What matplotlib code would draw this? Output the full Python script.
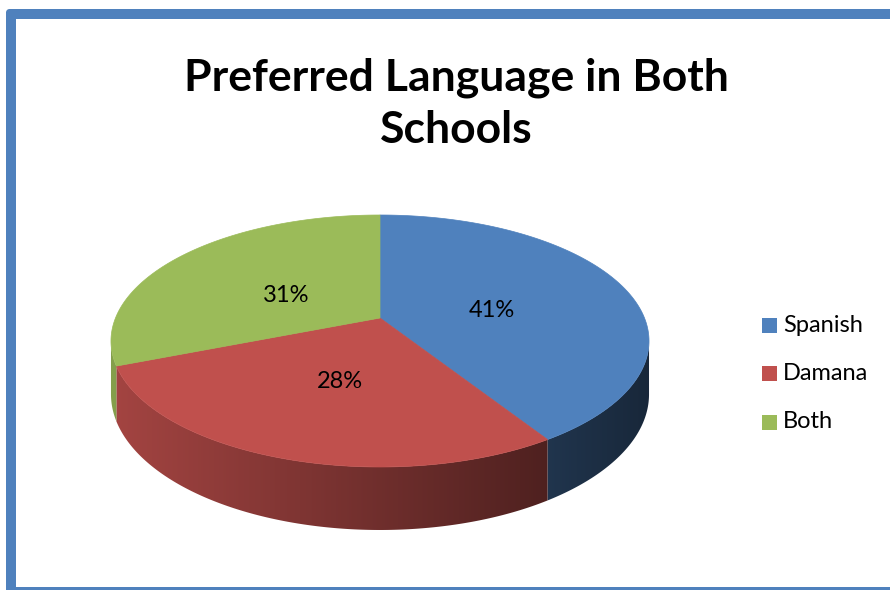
import numpy as np
import matplotlib
matplotlib.use("Agg")
import matplotlib.pyplot as plt
from matplotlib.patches import Polygon, Rectangle

labels = ["Spanish", "Damana", "Both"]
shares = [41, 28, 31]
colors = ["#4F81BD", "#C0504D", "#9BBB59"]
title = "Preferred Language in Both\nSchools"

plt.rcParams['font.family'] = ['Lato', 'DejaVu Sans']

fig = plt.figure(figsize=(8.9, 5.9), dpi=100)
ax = fig.add_axes([0, 0, 1, 1])
ax.set_xlim(0, 890)
ax.set_ylim(590, 0)
ax.axis('off')

# chart frame: left, top and bottom bars (right side runs off the edge)
frame_col = "#4F81BD"
ax.add_patch(Rectangle((6, 12), 10, 600, facecolor=frame_col, edgecolor="none"))
ax.add_patch(Rectangle((9, 9), 900, 10, facecolor=frame_col, edgecolor="none"))
ax.add_patch(Rectangle((6, 587), 900, 10, facecolor=frame_col, edgecolor="none"))
ax.add_patch(plt.Circle((9.5, 12.5), 3.5, facecolor=frame_col, edgecolor="none"))

ax.text(456, 143, title, ha="center", va="baseline", fontsize=32, fontweight="bold",
        linespacing=1.35)

# perspective disc: centre, half axes, tilt factor and rim depth
X0, Y0 = 380, 318
A, B = 264.5, 121.8
k = 0.1825
D = 51.5

def proj(t, r=1.0, drop=0.0):
    u = r * np.cos(t)
    v = r * np.sin(t)
    w = 1 + k * v
    return X0 + A * u / w, Y0 - B * v / w + drop / w

# slice angles, clockwise from 12 o'clock
fracs = np.array(shares) / sum(shares)
starts = np.pi / 2 - 2 * np.pi * np.concatenate([[0], np.cumsum(fracs)[:-1]])
ends = starts - 2 * np.pi * fracs

# visible part of the rim lies between the left and right extremes
t_left = -np.pi + np.arcsin(k)
t_right = -np.arcsin(k)

# horizontal light falloff for the rim, lit from the left
gx = np.linspace(X0 - A - 10, X0 + A + 10, 600)
fall = np.clip(0.58 - 0.269 * (gx - X0) / A, 0, 1)

for s, e, col in zip(starts, ends, colors):
    lo, hi = e, s
    for off in (0, 2 * np.pi, -2 * np.pi):
        a = max(lo + off, t_left)
        b = min(hi + off, t_right)
        if a >= b:
            continue
        ts = np.linspace(a, b, 200)
        xt, yt = proj(ts)
        xb, yb = proj(ts[::-1], drop=D)
        poly = Polygon(np.column_stack([np.r_[xt, xb], np.r_[yt, yb]]), closed=True,
                       facecolor="none", edgecolor="none")
        ax.add_patch(poly)
        rgb = np.array(matplotlib.colors.to_rgb(col))
        img = (fall[:, None] * rgb[None, :])[None, :, :]
        im = ax.imshow(img, extent=(gx[0], gx[-1], Y0 + B + D + 80, Y0 - B),
                       aspect="auto", interpolation="bilinear", zorder=1)
        im.set_clip_path(poly)

# top faces
for s, e, col in zip(starts, ends, colors):
    ts = np.linspace(s, e, 200)
    xs, ys = proj(ts)
    pts = np.column_stack([np.r_[X0, xs], np.r_[Y0, ys]])
    ax.add_patch(Polygon(pts, closed=True, facecolor=col, edgecolor=col,
                         linewidth=0.5, zorder=2))

# percentage labels
for s, e, p in zip(starts, ends, shares):
    x, y = proj(0.5 * (s + e), r=0.45)
    ax.text(x, y + 7, "%d%%" % p, ha="center", va="center", fontsize=17, zorder=3)

# legend
for i, (lab, col) in enumerate(zip(labels, colors)):
    yc = 325 + i * 48.5
    ax.add_patch(Rectangle((762, yc - 7.5), 15, 15, facecolor=col, edgecolor="none"))
    ax.text(783, yc, lab, ha="left", va="center", fontsize=17)

ax.set_xlim(0, 890)
ax.set_ylim(590, 0)
fig.savefig("out.png", dpi=100)
